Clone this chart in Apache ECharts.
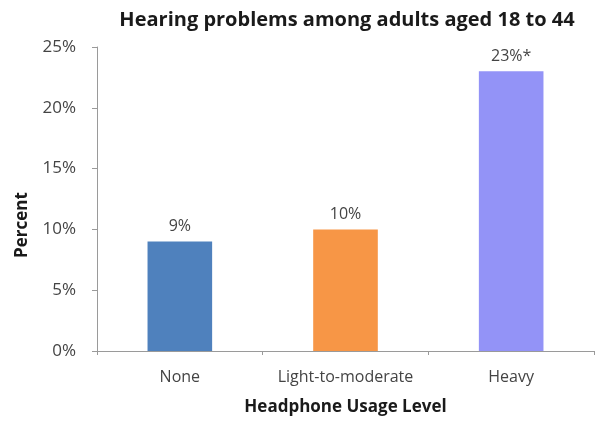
<!DOCTYPE html>
<html>
<head>
<meta charset="utf-8">
<script src="https://cdn.jsdelivr.net/npm/echarts@6/dist/echarts.min.js"></script>
<style>
  html, body { margin: 0; padding: 0; background: #fff; }
  #chart { width: 595px; height: 421px; }
</style>
</head>
<body>
<div id="chart"></div>
<script>
// headphone usage level categories and share with hearing problems
var categories = ['None', 'Light-to-moderate', 'Heavy'];
var percents = [9, 10, 23];
var barLabels = ['9%', '10%', '23%*'];
var barColors = ['#4F81BD', '#F79646', '#9393F7'];

var font = '"Open Sans", Lato, sans-serif';
var myChart = echarts.init(document.getElementById('chart'));

myChart.setOption({
  animation: false,
  backgroundColor: '#fff',
  title: {
    text: 'Hearing problems among adults aged 18 to 44',
    left: 342,
    top: 5,
    textAlign: 'center',
    textStyle: { fontFamily: font, fontWeight: 'bold', fontSize: 20, color: '#1a1a1a' }
  },
  grid: { left: 97, right: 1, top: 47, bottom: 68 },
  xAxis: {
    type: 'category',
    data: categories,
    name: 'Headphone Usage Level',
    nameLocation: 'middle',
    nameGap: 48,
    nameTextStyle: { fontFamily: font, fontWeight: 'bold', fontSize: 17, color: '#1a1a1a' },
    axisLine: { lineStyle: { color: '#9a9a9a', width: 1 } },
    axisTick: { show: true, length: 4, lineStyle: { color: '#9a9a9a' } },
    axisLabel: { interval: 0, fontFamily: font, fontSize: 16, color: '#444', margin: 18 }
  },
  yAxis: {
    type: 'value',
    min: 0,
    max: 25,
    interval: 5,
    name: 'Percent',
    nameLocation: 'middle',
    nameGap: 66,
    nameTextStyle: {
      fontFamily: font, fontWeight: 'bold', fontSize: 17, color: '#1a1a1a',
      padding: [0, 52, 0, 0]
    },
    axisLine: { show: true, lineStyle: { color: '#9a9a9a', width: 1 } },
    axisTick: { show: true, length: 5, lineStyle: { color: '#9a9a9a' } },
    splitLine: { show: false },
    axisLabel: { fontFamily: font, fontSize: 17, color: '#444', margin: 21, formatter: '{value}%' }
  },
  series: [{
    type: 'bar',
    barWidth: '39%',
    data: percents.map(function (v, i) {
      return { value: v, itemStyle: { color: barColors[i] } };
    }),
    label: {
      show: true,
      position: 'top',
      distance: 7,
      fontFamily: font,
      fontSize: 16,
      color: '#444',
      formatter: function (p) { return barLabels[p.dataIndex]; }
    }
  }]
});
</script>
</body>
</html>
